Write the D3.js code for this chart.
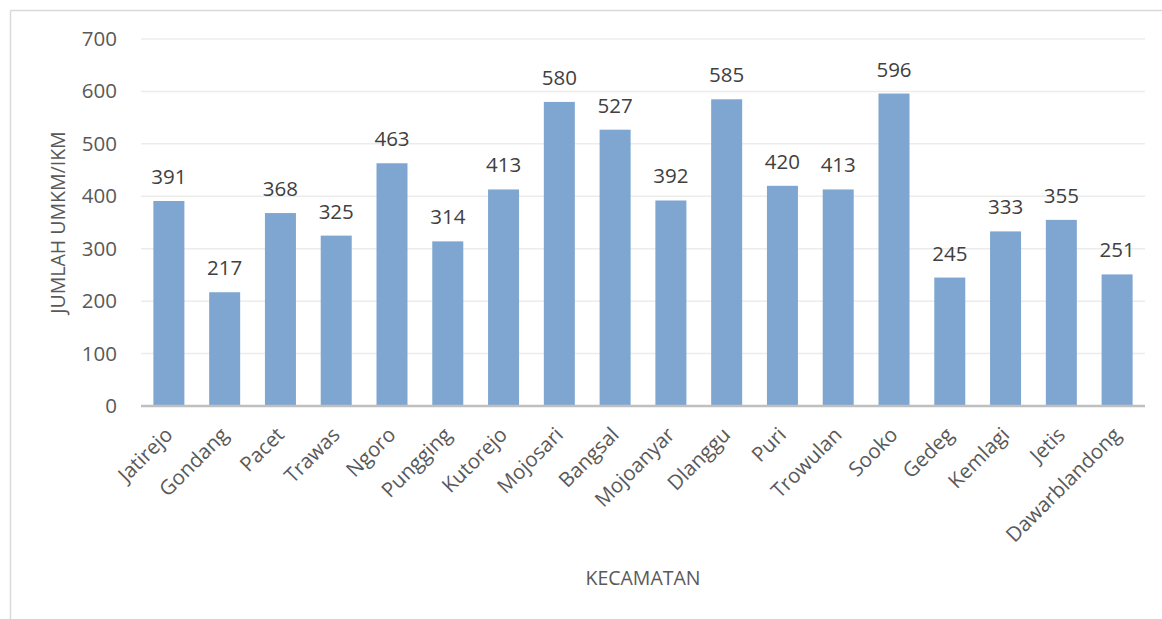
<!DOCTYPE html>
<html>
<head>
<meta charset="utf-8">
<script src="https://cdn.jsdelivr.net/npm/d3@7"></script>
<style>
  body { margin: 0; background: #fff; }
  text { font-family: "Open Sans", sans-serif; fill: #595959; }
</style>
</head>
<body>
<div id="chart"></div>
<script>
var kecamatan = ["Jatirejo", "Gondang", "Pacet", "Trawas", "Ngoro", "Pungging", "Kutorejo",
  "Mojosari", "Bangsal", "Mojoanyar", "Dlanggu", "Puri", "Trowulan", "Sooko", "Gedeg",
  "Kemlagi", "Jetis", "Dawarblandong"];
var jumlah = [391, 217, 368, 325, 463, 314, 413, 580, 527, 392, 585, 420, 413, 596, 245, 333, 355, 251];
var yTicks = [0, 100, 200, 300, 400, 500, 600, 700];

var W = 1162, H = 619;
var plotLeft = 141, plotRight = 1145, plotTop = 39, plotBottom = 406;

var svg = d3.select("#chart").append("svg").attr("width", W).attr("height", H);

// outer frame (only left and top edges visible)
svg.append("line").attr("x1", 10.5).attr("y1", 10.5).attr("x2", W).attr("y2", 10.5)
  .style("stroke", "#d9d9d9").style("stroke-width", 1.5);
svg.append("line").attr("x1", 10.5).attr("y1", 10.5).attr("x2", 10.5).attr("y2", H)
  .style("stroke", "#d9d9d9").style("stroke-width", 1.5);

var x = d3.scaleBand().domain(kecamatan).range([plotLeft, plotRight]).paddingInner(0.444).paddingOuter(0.222);
var y = d3.scaleLinear().domain([0, 700]).range([plotBottom, plotTop]);

// gridlines
svg.append("g").selectAll("line").data(yTicks.slice(1)).enter().append("line")
  .attr("x1", plotLeft).attr("x2", plotRight)
  .attr("y1", function(d) { return y(d); })
  .attr("y2", function(d) { return y(d); })
  .style("stroke", "#ececec").style("stroke-width", 1.5);

// y tick labels
var yAxis = svg.append("g").attr("transform", "translate(" + plotLeft + ",0)")
  .call(d3.axisLeft(y).tickValues(yTicks).tickSize(0).tickPadding(24));
yAxis.select(".domain").remove();
yAxis.selectAll("text").style("font-size", "20.5px").style("fill", "#595959")
  .style("font-family", "Open Sans");

// bars
svg.append("g").selectAll("rect").data(jumlah).enter().append("rect")
  .attr("x", function(d, i) { return x(kecamatan[i]); })
  .attr("y", function(d) { return y(d); })
  .attr("width", x.bandwidth())
  .attr("height", function(d) { return y(0) - y(d); })
  .style("fill", "#7fa6d1");

// value labels
svg.append("g").selectAll("text").data(jumlah).enter().append("text")
  .attr("x", function(d, i) { return x(kecamatan[i]) + x.bandwidth() / 2; })
  .attr("y", function(d) { return y(d) - 17; })
  .attr("text-anchor", "middle")
  .style("font-size", "20.5px")
  .style("fill", "#404040")
  .text(function(d) { return d; });

// baseline
svg.append("line").attr("x1", plotLeft).attr("x2", plotRight).attr("y1", y(0)).attr("y2", y(0))
  .style("stroke", "#bfbfbf").style("stroke-width", 2.5);

// category labels
var xAxis = svg.append("g").attr("transform", "translate(0," + plotBottom + ")")
  .call(d3.axisBottom(x).tickSize(0).tickPadding(0));
xAxis.select(".domain").remove();
xAxis.selectAll("text")
  .style("font-size", "20.5px").style("fill", "#595959").style("font-family", "Open Sans")
  .attr("text-anchor", "end")
  .attr("y", 0)
  .attr("dy", null)
  .attr("transform", "translate(5,30) rotate(-45)");

// axis titles
svg.append("text").attr("x", (plotLeft + plotRight) / 2).attr("y", 585)
  .attr("text-anchor", "middle").style("font-size", "19.5px").text("KECAMATAN");
svg.append("text")
  .attr("transform", "translate(65," + (plotTop + plotBottom) / 2 + ") rotate(-90)")
  .attr("text-anchor", "middle").style("font-size", "19.5px").text("JUMLAH UMKM/IKM");
</script>
</body>
</html>
